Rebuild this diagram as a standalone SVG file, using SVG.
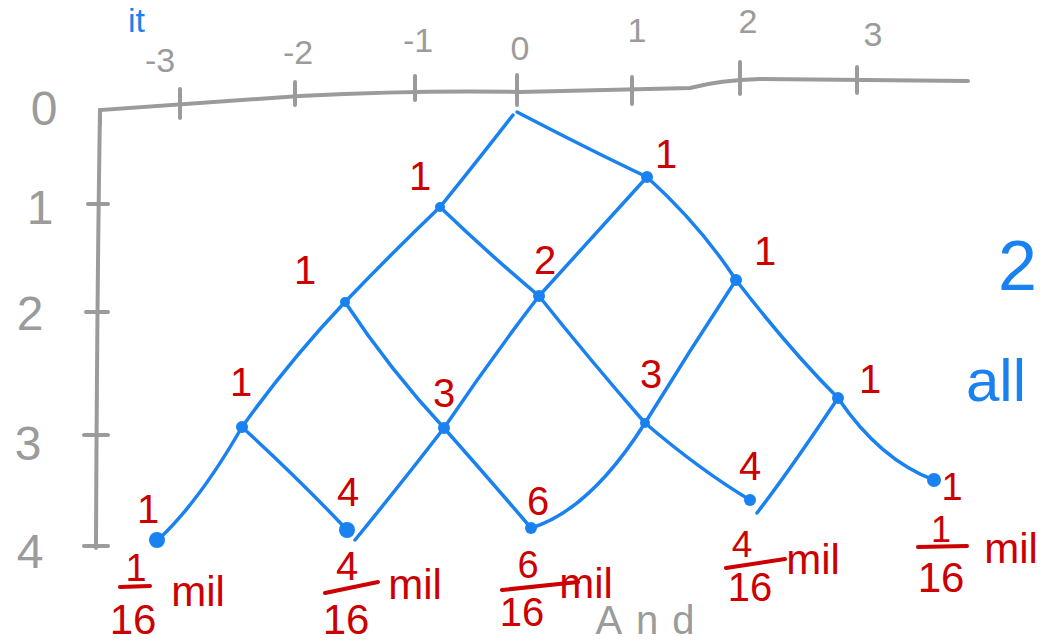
<svg xmlns="http://www.w3.org/2000/svg" width="1042" height="642" viewBox="0 0 1042 642">
<style>
.ax{fill:none;stroke:#9b9b9b;stroke-width:4;stroke-linecap:round}
.axt{font-family:"Liberation Sans",sans-serif;fill:#9b9b9b;font-size:34px;text-anchor:middle}
.axl{font-family:"Liberation Sans",sans-serif;fill:#9b9b9b;font-size:48px;text-anchor:middle}
.e{fill:none;stroke:#1a82f0;stroke-width:3.5;stroke-linecap:round}
.dot{fill:#1a82f0}
.lb{font-family:"Liberation Sans",sans-serif;fill:#cc0000;font-size:40px;text-anchor:middle}
.fn{font-family:"Liberation Sans",sans-serif;fill:#cc0000;font-size:42px;text-anchor:middle}
.fr{stroke:#cc0000;stroke-width:4;stroke-linecap:round}
.bl{font-family:"Liberation Sans",sans-serif;fill:#1a82f0;font-size:60px}
</style>
<rect width="1042" height="642" fill="#ffffff"/>
<g id="axes">
<path class="ax" d="M100,125 L100,110 Q200,103 300,96 Q420,90 520,92 Q600,90 690,88 Q720,80 760,79 L968,81"/>
<path class="ax" d="M100,110 Q97,300 96,548"/>
<path class="ax" d="M180,89 V118 M295,82 V105 M415,76 V100 M517,75 V105 M632,77 V104 M740,62 V94 M857,67 V93"/>
<path class="ax" d="M88,204 H108 M86,312 H108 M84,435 H108 M84,546 H108"/>
<text class="axt" x="160" y="72">-3</text>
<text class="axt" x="298" y="64">-2</text>
<text class="axt" x="418" y="52">-1</text>
<text class="axt" x="520" y="60">0</text>
<text class="axt" x="637" y="42">1</text>
<text class="axt" x="748" y="33">2</text>
<text class="axt" x="873" y="46">3</text>
<text class="axl" x="44" y="125">0</text>
<text class="axl" x="40" y="224">1</text>
<text class="axl" x="30" y="330">2</text>
<text class="axl" x="28" y="460">3</text>
<text class="axl" x="30" y="568">4</text>
</g>
<g id="connectors">
<path class="e" d="M513,115 Q470,170 440,207"/>
<path class="e" d="M517,112 Q590,150 647,177"/>
<path class="e" d="M440,207 Q390,255 345,302"/>
<path class="e" d="M440,207 Q490,255 539,296"/>
<path class="e" d="M647,177 Q590,240 539,296"/>
<path class="e" d="M647,177 Q700,225 736,280"/>
<path class="e" d="M345,302 Q290,360 242,427"/>
<path class="e" d="M345,302 Q390,370 444,428"/>
<path class="e" d="M539,296 Q490,360 444,428"/>
<path class="e" d="M539,296 Q590,360 645,423"/>
<path class="e" d="M736,280 Q690,350 645,423"/>
<path class="e" d="M736,280 Q790,350 838,398"/>
<path class="e" d="M242,427 Q200,500 160,538"/>
<path class="e" d="M242,427 Q300,480 347,530"/>
<path class="e" d="M444,428 Q400,485 355,540"/>
<path class="e" d="M444,428 Q490,480 531,528"/>
<path class="e" d="M645,423 Q590,510 531,528"/>
<path class="e" d="M645,423 Q700,470 750,500"/>
<path class="e" d="M838,398 Q790,470 757,513"/>
<path class="e" d="M838,398 Q880,460 934,480"/>
</g>
<g id="n1a"><circle class="dot" cx="440" cy="207" r="5"/><text class="lb" x="420" y="190">1</text></g>
<g id="n1b"><circle class="dot" cx="647" cy="177" r="6"/><text class="lb" x="666" y="168">1</text></g>
<g id="n2a"><circle class="dot" cx="345" cy="302" r="5"/><text class="lb" x="305" y="284">1</text></g>
<g id="n2b"><circle class="dot" cx="539" cy="296" r="6"/><text class="lb" x="545" y="274">2</text></g>
<g id="n2c"><circle class="dot" cx="736" cy="280" r="6"/><text class="lb" x="765" y="265">1</text></g>
<g id="n3a"><circle class="dot" cx="242" cy="427" r="6"/><text class="lb" x="241" y="396">1</text></g>
<g id="n3b"><circle class="dot" cx="444" cy="428" r="6"/><text class="lb" x="444" y="407">3</text></g>
<g id="n3c"><circle class="dot" cx="645" cy="423" r="5"/><text class="lb" x="651" y="388">3</text></g>
<g id="n3d"><circle class="dot" cx="838" cy="398" r="6"/><text class="lb" x="870" y="393">1</text></g>
<g id="n4a"><circle class="dot" cx="157" cy="540" r="8"/><text class="lb" x="148" y="523">1</text>
<line class="fr" x1="120" y1="587" x2="150" y2="586"/><text class="fn" x="136" y="581" style="font-size:38px">1</text><text class="fn" x="133" y="634">16</text><text class="fn" x="198" y="606">mil</text></g>
<g id="n4b"><circle class="dot" cx="347" cy="530" r="8"/><text class="lb" x="348" y="506">4</text>
<line class="fr" x1="325" y1="593" x2="378" y2="582"/><text class="fn" x="347" y="580" style="font-size:40px">4</text><text class="fn" x="346" y="634">16</text><text class="fn" x="415" y="599">mil</text></g>
<g id="n4c"><circle class="dot" cx="531" cy="528" r="6"/><text class="lb" x="538" y="515">6</text>
<line class="fr" x1="502" y1="590" x2="578" y2="582"/><text class="fn" x="528" y="578" style="font-size:38px">6</text><text class="fn" x="522" y="626" style="font-size:40px">16</text><text class="fn" x="586" y="598">mil</text></g>
<g id="n4d"><circle class="dot" cx="750" cy="500" r="6"/><text class="lb" x="750" y="480">4</text>
<line class="fr" x1="726" y1="568" x2="785" y2="559"/><text class="fn" x="742" y="557" style="font-size:37px">4</text><text class="fn" x="750" y="601" style="font-size:40px">16</text><text class="fn" x="813" y="574">mil</text></g>
<g id="n4e"><circle class="dot" cx="934" cy="480" r="7"/><text class="lb" x="952" y="500" style="font-size:38px">1</text>
<line class="fr" x1="918" y1="547" x2="967" y2="546"/><text class="fn" x="941" y="542" style="font-size:36px">1</text><text class="fn" x="941" y="592" style="font-size:42px">16</text><text class="fn" x="1011" y="563">mil</text></g>
<g id="margin">
<text class="bl" x="128" y="32" style="font-size:34px">it</text>
<text class="bl" x="998" y="290" style="font-size:70px">2</text>
<text class="bl" x="966" y="401">all</text>
<text class="axt" x="652" y="634" style="font-size:40px;letter-spacing:14px">And</text>
</g>
</svg>
